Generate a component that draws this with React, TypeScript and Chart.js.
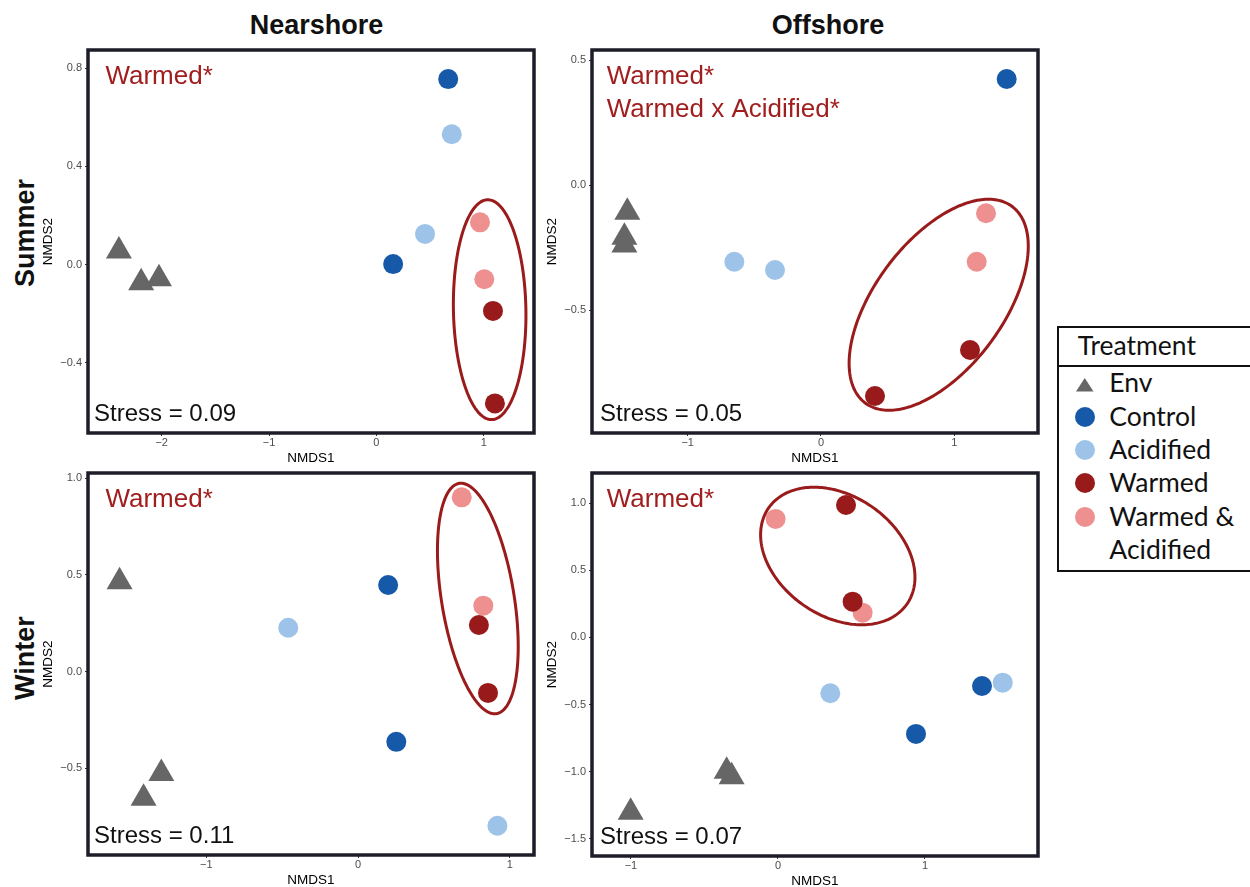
import React, { useEffect, useRef } from "react";
import { Chart, registerables } from "chart.js";

Chart.register(...registerables);

type XY = [number, number];

// ---------------- data: Nearshore / Summer ----------------
const nsSummerEnv: XY[] = [[-2.398, 0.055], [-2.191, -0.074], [-2.025, -0.058]];
const nsSummerControl: XY[] = [[0.669, 0.756], [0.156, 0.002]];
const nsSummerAcidified: XY[] = [[0.702, 0.531], [0.453, 0.125]];
const nsSummerWarmed: XY[] = [[1.086, -0.189], [1.104, -0.566]];
const nsSummerWarmAcid: XY[] = [[0.965, 0.172], [1.005, -0.060]];
// ellipse: centre x, centre y, half-width, half-height, correlation
const nsSummerEllipse = [1.055, -0.184, 0.338, 0.448, -0.05];

// ---------------- data: Offshore / Summer ----------------
const osSummerEnv: XY[] = [[-1.453, -0.109], [-1.475, -0.209], [-1.475, -0.24]];
const osSummerControl: XY[] = [[1.393, 0.424]];
const osSummerAcidified: XY[] = [[-0.65, -0.307], [-0.345, -0.34]];
const osSummerWarmed: XY[] = [[1.118, -0.66], [0.405, -0.844]];
const osSummerWarmAcid: XY[] = [[1.238, -0.113], [1.168, -0.307]];
const osSummerEllipse = [0.883, -0.479, 0.672, 0.422, 0.555];

// ---------------- data: Nearshore / Winter ----------------
const nsWinterEnv: XY[] = [[-1.571, 0.465], [-1.296, -0.526], [-1.413, -0.655]];
const nsWinterControl: XY[] = [[0.198, 0.448], [0.252, -0.363]];
const nsWinterAcidified: XY[] = [[-0.46, 0.227], [0.918, -0.797]];
const nsWinterWarmed: XY[] = [[0.796, 0.241], [0.856, -0.11]];
const nsWinterWarmAcid: XY[] = [[0.683, 0.901], [0.825, 0.341]];
const nsWinterEllipse = [0.789, 0.378, 0.266, 0.596, -0.416];

// ---------------- data: Offshore / Winter ----------------
const osWinterEnv: XY[] = [[-1.002, -1.302], [-0.349, -0.996], [-0.315, -1.037]];
const osWinterControl: XY[] = [[1.388, -0.362], [0.939, -0.719]];
const osWinterAcidified: XY[] = [[0.356, -0.416], [1.529, -0.337]];
const osWinterWarmed: XY[] = [[0.463, 0.986], [0.508, 0.266]];
const osWinterWarmAcid: XY[] = [[-0.016, 0.882], [0.576, 0.184]];
const osWinterEllipse = [0.407, 0.606, 0.525, 0.512, -0.309];

// ---------------- ticks ----------------
const nsSummerXTicks = [-2, -1, 0, 1];
const nsSummerXLabels = ["\u22122", "\u22121", "0", "1"];
const nsSummerYTicks = [0.8, 0.4, 0, -0.4];
const nsSummerYLabels = ["0.8", "0.4", "0.0", "\u22120.4"];
const osSummerXTicks = [-1, 0, 1];
const osSummerXLabels = ["\u22121", "0", "1"];
const osSummerYTicks = [0.5, 0, -0.5];
const osSummerYLabels = ["0.5", "0.0", "\u22120.5"];
const nsWinterXTicks = [-1, 0, 1];
const nsWinterXLabels = ["\u22121", "0", "1"];
const nsWinterYTicks = [1, 0.5, 0, -0.5];
const nsWinterYLabels = ["1.0", "0.5", "0.0", "\u22120.5"];
const osWinterXTicks = [-1, 0, 1];
const osWinterXLabels = ["\u22121", "0", "1"];
const osWinterYTicks = [1, 0.5, 0, -0.5, -1, -1.5];
const osWinterYLabels = ["1.0", "0.5", "0.0", "\u22120.5", "\u22121.0", "\u22121.5"];

// ---------------- text ----------------
const columnTitles = ["Nearshore", "Offshore"];
const rowTitles = ["Summer", "Winter"];
const legendTitle = "Treatment";
const legendLabels = ["Env", "Control", "Acidified", "Warmed", "Warmed &", "Acidified"];

// ---------------- styles ----------------
const SANS = '"Liberation Sans", Arial, Helvetica, sans-serif';
const LEGEND_FONT = 'Lato, "Open Sans", "Noto Sans", sans-serif';
const COLORS = {
  env: "#666666",
  control: "#1659a8",
  acid: "#9ec3e8",
  warmed: "#981a1a",
  wa: "#ef9090",
  ellipse: "#9a1b1b",
  note: "#a01e1e",
  frame: "#1d1d29",
};

type PanelCfg = {
  rect: { l: number; t: number; r: number; b: number };
  xRange: [number, number];
  yRange: [number, number];
  xTicks: number[];
  xLabels: string[];
  yTicks: number[];
  yLabels: string[];
  env: XY[];
  control: XY[];
  acid: XY[];
  warmed: XY[];
  wa: XY[];
  ellipse: number[];
  notes: string[];
  stress: string;
  noteDx: number;
  stressDx: number;
};

const panels: PanelCfg[] = [
  {
    rect: { l: 88, t: 50, r: 534, b: 433 },
    xRange: [-2.686, 1.468],
    yRange: [-0.6866, 0.8745],
    xTicks: nsSummerXTicks, xLabels: nsSummerXLabels,
    yTicks: nsSummerYTicks, yLabels: nsSummerYLabels,
    env: nsSummerEnv, control: nsSummerControl, acid: nsSummerAcidified,
    warmed: nsSummerWarmed, wa: nsSummerWarmAcid, ellipse: nsSummerEllipse,
    notes: ["Warmed*"], stress: "Stress = 0.09", noteDx: 17.4, stressDx: 6,
  },
  {
    rect: { l: 592, t: 50, r: 1038, b: 433 },
    xRange: [-1.718, 1.628],
    yRange: [-0.992, 0.54],
    xTicks: osSummerXTicks, xLabels: osSummerXLabels,
    yTicks: osSummerYTicks, yLabels: osSummerYLabels,
    env: osSummerEnv, control: osSummerControl, acid: osSummerAcidified,
    warmed: osSummerWarmed, wa: osSummerWarmAcid, ellipse: osSummerEllipse,
    notes: ["Warmed*", "Warmed x Acidified*"], stress: "Stress = 0.05", noteDx: 14.7, stressDx: 8,
  },
  {
    rect: { l: 88, t: 473, r: 534, b: 855 },
    xRange: [-1.779, 1.159],
    yRange: [-0.948, 1.027],
    xTicks: nsWinterXTicks, xLabels: nsWinterXLabels,
    yTicks: nsWinterYTicks, yLabels: nsWinterYLabels,
    env: nsWinterEnv, control: nsWinterControl, acid: nsWinterAcidified,
    warmed: nsWinterWarmed, wa: nsWinterWarmAcid, ellipse: nsWinterEllipse,
    notes: ["Warmed*"], stress: "Stress = 0.11", noteDx: 17.4, stressDx: 6,
  },
  {
    rect: { l: 592, t: 473, r: 1038, b: 856 },
    xRange: [-1.265, 1.769],
    yRange: [-1.628, 1.224],
    xTicks: osWinterXTicks, xLabels: osWinterXLabels,
    yTicks: osWinterYTicks, yLabels: osWinterYLabels,
    env: osWinterEnv, control: osWinterControl, acid: osWinterAcidified,
    warmed: osWinterWarmed, wa: osWinterWarmAcid, ellipse: osWinterEllipse,
    notes: ["Warmed*"], stress: "Stress = 0.07", noteDx: 14.7, stressDx: 8,
  },
];

const Y_AXIS_W = 60;
const X_AXIS_H = 36;
const PAD_TOP = 10;
const PAD_RIGHT = 3;

function ds(label: string, pts: XY[], color: string, style: string, radius: number, order: number) {
  return {
    label,
    data: pts.map(([x, y]) => ({ x, y })),
    pointStyle: style,
    pointRadius: radius,
    pointHoverRadius: radius,
    backgroundColor: color,
    borderColor: color,
    pointBackgroundColor: color,
    pointBorderColor: color,
    pointBorderWidth: 0,
    borderWidth: 0,
    showLine: false,
    order,
  };
}

function makeDeco(cfg: PanelCfg) {
  return {
    id: "deco",
    afterDatasetsDraw(chart: any) {
      const ctx = chart.ctx as CanvasRenderingContext2D;
      const xs = chart.scales.x;
      const ys = chart.scales.y;
      const [cx, cy, sx, sy, rho] = cfg.ellipse;
      const k = Math.sqrt(1 - rho * rho);
      ctx.save();
      ctx.beginPath();
      const n = 240;
      for (let i = 0; i <= n; i++) {
        const t = (i / n) * Math.PI * 2;
        const dx = sx * Math.cos(t);
        const dy = sy * (rho * Math.cos(t) + k * Math.sin(t));
        const px = xs.getPixelForValue(cx + dx);
        const py = ys.getPixelForValue(cy + dy);
        if (i === 0) ctx.moveTo(px, py);
        else ctx.lineTo(px, py);
      }
      ctx.closePath();
      ctx.strokeStyle = COLORS.ellipse;
      ctx.lineWidth = 3;
      ctx.stroke();
      ctx.restore();
    },
    afterDraw(chart: any) {
      const ctx = chart.ctx as CanvasRenderingContext2D;
      const a = chart.chartArea;
      ctx.save();
      ctx.textAlign = "left";
      ctx.textBaseline = "alphabetic";
      ctx.font = `26px ${SANS}`;
      ctx.fillStyle = COLORS.note;
      cfg.notes.forEach((s, i) => ctx.fillText(s, a.left + cfg.noteDx, a.top + 33.5 + i * 33));
      ctx.font = `24px ${SANS}`;
      ctx.fillStyle = "#111111";
      ctx.fillText(cfg.stress, a.left + cfg.stressDx, a.bottom - 12);
      ctx.strokeStyle = COLORS.frame;
      ctx.lineWidth = 3.5;
      ctx.strokeRect(a.left, a.top, a.right - a.left, a.bottom - a.top);
      ctx.restore();
    },
  };
}

function Panel({ cfg }: { cfg: PanelCfg }) {
  const ref = useRef<HTMLCanvasElement>(null);
  const { l, t, r, b } = cfg.rect;
  const left = l - Y_AXIS_W;
  const top = t - PAD_TOP;
  const w = r - l + Y_AXIS_W + PAD_RIGHT;
  const h = b - t + PAD_TOP + X_AXIS_H;

  useEffect(() => {
    const canvas = ref.current!;
    const tickFont = { family: SANS, size: 11 };
    const titleFont = { family: SANS, size: 13.5 };
    const chart = new Chart(canvas, {
      type: "scatter",
      data: {
        datasets: [
          ds("Warmed", cfg.warmed, COLORS.warmed, "circle", 10, 1),
          ds("Warmed & Acidified", cfg.wa, COLORS.wa, "circle", 10, 2),
          ds("Acidified", cfg.acid, COLORS.acid, "circle", 10, 3),
          ds("Control", cfg.control, COLORS.control, "circle", 10, 4),
          ds("Env", cfg.env, COLORS.env, "triangle", 15, 5),
        ] as any,
      },
      options: {
        responsive: false,
        maintainAspectRatio: false,
        animation: false,
        events: [],
        layout: { autoPadding: false, padding: { top: PAD_TOP, right: PAD_RIGHT, left: 0, bottom: 0 } },
        plugins: { legend: { display: false }, tooltip: { enabled: false } },
        scales: {
          x: {
            type: "linear",
            min: cfg.xRange[0],
            max: cfg.xRange[1],
            afterFit: (s: any) => { s.height = X_AXIS_H; },
            afterBuildTicks: (s: any) => { s.ticks = cfg.xTicks.map((v) => ({ value: v })); },
            ticks: {
              callback: (_v: any, i: number) => cfg.xLabels[i],
              autoSkip: false,
              maxRotation: 0,
              minRotation: 0,
              padding: 0.5,
              color: "#4d4d4d",
              font: tickFont,
            },
            grid: { display: true, drawOnChartArea: false, drawTicks: true, tickLength: 3, color: "#333333", lineWidth: 1 },
            border: { display: false },
            title: { display: true, text: "NMDS1", color: "#000000", font: titleFont, padding: { top: 0, bottom: 2.9 } },
          },
          y: {
            type: "linear",
            min: cfg.yRange[0],
            max: cfg.yRange[1],
            afterFit: (s: any) => { s.width = Y_AXIS_W; },
            afterBuildTicks: (s: any) => { s.ticks = cfg.yTicks.map((v) => ({ value: v })); },
            ticks: {
              callback: (_v: any, i: number) => cfg.yLabels[i],
              autoSkip: false,
              padding: 3,
              color: "#4d4d4d",
              font: tickFont,
            },
            grid: { display: true, drawOnChartArea: false, drawTicks: true, tickLength: 3, color: "#333333", lineWidth: 1 },
            border: { display: false },
            title: { display: true, text: "NMDS2", color: "#000000", font: titleFont, padding: { top: 11.9, bottom: 0 } },
          },
        },
      } as any,
      plugins: [makeDeco(cfg)],
    });

    // anchor the canvas so that the plotting area sits on the intended rectangle
    const a = chart.chartArea;
    canvas.style.left = `${l - a.left}px`;
    canvas.style.top = `${t - a.top}px`;

    return () => chart.destroy();
  }, []);

  return (
    <canvas
      ref={ref}
      width={w}
      height={h}
      style={{ position: "absolute", left, top, width: w, height: h }}
    />
  );
}

function LegendBox() {
  const fs = 26.5;
  const lh = 32;
  // baseline offset inside a line box of height lh (approx. Lato metrics)
  const base = (lh - 1.2 * fs) / 2 + 0.987 * fs;
  const textAt = (s: string, x: number, baseline: number, key: string) => (
    <div
      key={key}
      style={{
        position: "absolute",
        left: x,
        top: baseline - base,
        fontFamily: LEGEND_FONT,
        fontSize: fs,
        lineHeight: `${lh}px`,
        color: "#111",
        whiteSpace: "nowrap",
      }}
    >
      {s}
    </div>
  );
  const circle = (color: string, cy: number, key: string) => (
    <div
      key={key}
      style={{
        position: "absolute",
        left: 1085 - 10,
        top: cy - 10,
        width: 20,
        height: 20,
        borderRadius: "50%",
        background: color,
      }}
    />
  );
  const baselines = [392.7, 426, 459.3, 492.7, 526, 559.3];
  return (
    <>
      <div
        style={{
          position: "absolute",
          left: 1057,
          top: 326.3,
          width: 230,
          height: 245.5,
          border: "2px solid #111",
          boxSizing: "border-box",
          background: "#fff",
        }}
      />
      <div style={{ position: "absolute", left: 1057, top: 364.7, width: 230, height: 2, background: "#111" }} />
      {textAt(legendTitle, 1077.7, 355, "title")}
      <div
        style={{
          position: "absolute",
          left: 1076,
          top: 378,
          width: 17.5,
          height: 13.5,
          background: COLORS.env,
          clipPath: "polygon(50% 0%, 100% 100%, 0% 100%)",
        }}
      />
      {circle(COLORS.control, 416.7, "c1")}
      {circle(COLORS.acid, 450, "c2")}
      {circle(COLORS.warmed, 483.3, "c3")}
      {circle(COLORS.wa, 516.7, "c4")}
      {legendLabels.map((s, i) => textAt(s, 1109.3, baselines[i], "l" + i))}
    </>
  );
}

export default function App() {
  const titleFs = 27;
  const titleBase = (titleFs - 1.117 * titleFs) / 2 + 0.905 * titleFs;
  const colCenters = [316.6, 828];
  const rowCenters = [233, 658];
  return (
    <div
      style={{
        position: "absolute",
        left: 0,
        top: 0,
        width: 1250,
        height: 887,
        overflow: "hidden",
        background: "#ffffff",
      }}
    >
      {columnTitles.map((s, i) => (
        <div
          key={s}
          style={{
            position: "absolute",
            left: colCenters[i],
            top: 35 - titleBase,
            transform: "translateX(-50%)",
            fontFamily: SANS,
            fontWeight: "bold",
            fontSize: titleFs,
            lineHeight: `${titleFs}px`,
            color: "#111",
            whiteSpace: "nowrap",
          }}
        >
          {s}
        </div>
      ))}
      {rowTitles.map((s, i) => (
        <div
          key={s}
          style={{
            position: "absolute",
            left: 24.6,
            top: rowCenters[i],
            transform: "translate(-50%, -50%) rotate(-90deg)",
            fontFamily: SANS,
            fontWeight: "bold",
            fontSize: titleFs,
            lineHeight: `${titleFs}px`,
            color: "#111",
            whiteSpace: "nowrap",
          }}
        >
          {s}
        </div>
      ))}
      {panels.map((p, i) => (
        <Panel key={i} cfg={p} />
      ))}
      <LegendBox />
    </div>
  );
}
